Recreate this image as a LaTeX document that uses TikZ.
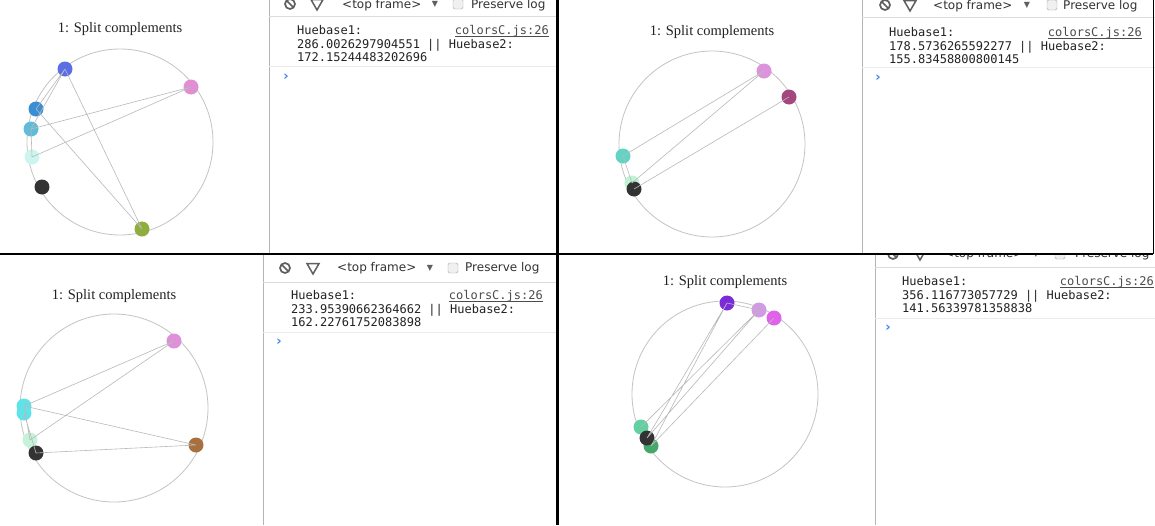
\documentclass[tikz,border=0pt]{standalone}
\usepackage{fontspec}
\setmainfont{Liberation Serif}
\newfontfamily\consolefont{DejaVu Sans Mono}
\newfontfamily\uifont{DejaVu Sans}
\usetikzlibrary{positioning,shapes.geometric}
\definecolor{ringgray}{HTML}{C4C4C4}
\definecolor{linkgray}{HTML}{B9B9B9}
\definecolor{panelgray}{HTML}{B4B4B4}
\definecolor{rulegray}{HTML}{DCDCDC}
\definecolor{sepgray}{HTML}{EBEBEB}
\definecolor{icongray}{HTML}{5F5F5F}
\definecolor{boxgray}{HTML}{A8A8A8}
\definecolor{promptblue}{HTML}{3F86E8}
\definecolor{inkdark}{HTML}{222222}
\definecolor{dotdark}{HTML}{333333}
\definecolor{tlblue}{HTML}{5B6EE6}
\definecolor{tlpink}{HTML}{E08FD2}
\definecolor{tlsteel}{HTML}{3A8FD4}
\definecolor{tlsky}{HTML}{62BCD8}
\definecolor{tlmint}{HTML}{CDF5F0}
\definecolor{tlolive}{HTML}{8FAE3E}
\definecolor{trpink}{HTML}{DD92DE}
\definecolor{trplum}{HTML}{A5477F}
\definecolor{trteal}{HTML}{63D3C3}
\definecolor{trmint}{HTML}{C0F2D4}
\definecolor{blpink}{HTML}{DE90D8}
\definecolor{blcyan}{HTML}{5FE3E8}
\definecolor{blmint}{HTML}{C6F2DA}
\definecolor{blbrown}{HTML}{A8703E}
\definecolor{brviolet}{HTML}{7B2BD8}
\definecolor{brlilac}{HTML}{D29AE2}
\definecolor{brmagenta}{HTML}{E062EA}
\definecolor{brsea}{HTML}{62D0A2}
\definecolor{brgreen}{HTML}{45A86A}

\begin{document}
\begin{tikzpicture}[
  x=1pt,y=-1pt,
  title/.style={font=\fontsize{14.5}{16}\selectfont,text=inkdark,inner sep=0},
  ring/.style={circle,draw=ringgray,line width=.8pt,minimum size=#1,inner sep=0},
  dot/.style={circle,fill=#1,minimum size=15pt,inner sep=0},
  link/.style={draw=linkgray,line width=.6pt},
  console/.style={font=\consolefont\fontsize{12}{13.5}\selectfont,text=inkdark,inner sep=0,anchor=base west},
  src/.style={console,anchor=base east,text=black!70},
  ui/.style={font=\uifont\fontsize{12}{14}\selectfont,text=black!80,inner sep=0,anchor=west},
  stopicon/.style={circle,draw=icongray,line width=1.7pt,minimum size=10pt,inner sep=0,
    path picture={\draw[icongray,line width=1.7pt] (path picture bounding box.north west) -- (path picture bounding box.south east);}},
  funnel/.style={regular polygon,regular polygon sides=3,shape border rotate=180,draw=icongray,line width=1.5pt,minimum size=14pt,inner sep=0},
  menu/.style={font=\uifont\fontsize{8}{9}\selectfont,text=icongray,inner sep=0},
  checkbox/.style={rectangle,rounded corners=1.5pt,draw=boxgray,fill=black!6,minimum size=10pt,inner sep=0},
  prompt/.style={font=\uifont\bfseries\fontsize{13}{14}\selectfont,text=promptblue,inner sep=0},
  border/.style={draw=panelgray,line width=1pt},
  frame/.style={draw=black,line width=1.5pt}
]
\useasboundingbox (0,0) rectangle (1155,525);
\clip (0,0) rectangle (1155,525);
\fill[white] (0,0) rectangle (1155,525);

% top left
\node[title] (tltitle) at (120,29) {1: Split complements};
\node[ring=186pt] (tlring) at (120,142) {};
\node[dot=tlblue] (tla) at (65,69) {};
\node[dot=tlpink] (tlb) at (191,87) {};
\node[dot=tlsteel] (tlc) at (36,109) {};
\node[dot=tlsky] (tld) at (31,129) {};
\node[dot=tlmint] (tle) at (32,157) {};
\node[dot=dotdark] (tlf) at (42,187) {};
\node[dot=tlolive] (tlg) at (142,229) {};
\draw[link] (tla.center) -- (tlc.center) (tla.center) -- (tld.center) (tld.center) -- (tle.center)
  (tlb.center) -- (tld.center) (tlb.center) -- (tle.center)
  (tla.center) -- (tlg.center) (tlc.center) -- (tlg.center);

\draw[border] (269,0) -- (269,254);
\draw[rulegray] (269,16.5) -- (557,16.5);
\node[stopicon] (tlstop) at (290,4) {};
\node[funnel] (tlfunnel) at (317,3) {};
\node[ui] (tlframe) at (342,5) {<top frame>};
\node[menu] (tlmenu) at (435,4) {▼};
\node[checkbox] (tlcheck) at (458,4) {};
\node[ui] (tlpreserve) at (471,5) {Preserve log};
\node[console] (tlmsga) at (297,34.5) {Huebase1:};
\node[src] (tlsrc) at (549,34.5) {\underline{\smash{colorsC.js:26}}};
\node[console] (tlmsgb) at (297,48) {286.0026297904551 || Huebase2:};
\node[console] (tlmsgc) at (297,61.5) {172.15244483202696};
\draw[sepgray] (269,66.5) -- (557,66.5);
\node[prompt] (tlprompt) at (286,77) {›};

% top right
\node[title] (trtitle) at (712,32) {1: Split complements};
\node[ring=186pt] (trring) at (712,144) {};
\node[dot=trpink] (tra) at (764,71) {};
\node[dot=trplum] (trb) at (789,97) {};
\node[dot=trteal] (trc) at (623,156) {};
\node[dot=trmint] (trd) at (632,183) {};
\node[dot=dotdark] (tre) at (634,189) {};
\draw[link] (tra.center) -- (trc.center) (tra.center) -- (trd.center)
  (trb.center) -- (tre.center) (trc.center) -- (trd.center);

\draw[border] (862,0) -- (862,254);
\draw[rulegray] (862,17.5) -- (1155,17.5);
\node[stopicon] (trstop) at (885,5) {};
\node[funnel] (trfunnel) at (910,4) {};
\node[ui] (trframe) at (933,6) {<top frame>};
\node[menu] (trmenu) at (1027,5) {▼};
\node[checkbox] (trcheck) at (1052,5) {};
\node[ui] (trpreserve) at (1063,6) {Preserve log};
\node[console] (trmsga) at (889,36.5) {Huebase1:};
\node[src] (trsrc) at (1142,36.5) {\underline{\smash{colorsC.js:26}}};
\node[console] (trmsgb) at (889,50) {178.5736265592277 || Huebase2:};
\node[console] (trmsgc) at (889,63.5) {155.83458800800145};
\draw[sepgray] (862,67.5) -- (1155,67.5);
\node[prompt] (trprompt) at (878,78) {›};

% bottom left
\node[title] (bltitle) at (114,296) {1: Split complements};
\node[ring=188pt] (blring) at (114,408) {};
\node[dot=blpink] (bla) at (174,341) {};
\node[dot=blcyan] (blb) at (24,406) {};
\node[dot=blcyan] (blc) at (24,413) {};
\node[dot=blmint] (bld) at (30,440) {};
\node[dot=dotdark] (ble) at (36,453) {};
\node[dot=blbrown] (blf) at (196,445) {};
\draw[link] (bla.center) -- (blb.center) (bla.center) -- (bld.center)
  (blb.center) -- (blf.center) (ble.center) -- (blf.center)
  (blb.center) -- (bld.center) (blc.center) -- (ble.center);

\draw[border] (263,254) -- (263,525);
\draw[rulegray] (263,282.5) -- (557,282.5);
\node[stopicon] (blstop) at (285,268) {};
\node[funnel] (blfunnel) at (313,267) {};
\node[ui] (blframe) at (337,268) {<top frame>};
\node[menu] (blmenu) at (430,268) {▼};
\node[checkbox] (blcheck) at (453,268) {};
\node[ui] (blpreserve) at (465,268) {Preserve log};
\node[console] (blmsga) at (291,299.5) {Huebase1:};
\node[src] (blsrc) at (543,299.5) {\underline{\smash{colorsC.js:26}}};
\node[console] (blmsgb) at (291,313) {233.95390662364662 || Huebase2:};
\node[console] (blmsgc) at (291,326.5) {162.22761752083898};
\draw[sepgray] (263,332.5) -- (557,332.5);
\node[prompt] (blprompt) at (279,342) {›};

% bottom right
\node[title] (brtitle) at (725,282) {1: Split complements};
\node[ring=186pt] (brring) at (725,394) {};
\node[dot=brviolet] (bra) at (727,303) {};
\node[dot=brlilac] (brb) at (759,310) {};
\node[dot=brmagenta] (brc) at (774,318) {};
\node[dot=brsea] (brd) at (641,427) {};
\node[dot=brgreen] (bre) at (651,446) {};
\node[dot=dotdark] (brf) at (647,438) {};
\draw[link] (bra.center) -- (brb.center) (bra.center) -- (brf.center) (bra.center) -- (bre.center)
  (brb.center) -- (brd.center) (brb.center) -- (brf.center) (brc.center) -- (bre.center);

\draw[border] (875,254) -- (875,525);
\draw[rulegray] (875,267.5) -- (1155,267.5);
\begin{scope}
\clip (875,254) rectangle (1155,267);
\node[stopicon] (brstop) at (893,254) {};
\node[funnel] (brfunnel) at (920,253) {};
\node[ui] (brframe) at (944,254) {<top frame>};
\node[menu] (brmenu) at (1036,254) {▼};
\node[checkbox] (brcheck) at (1060,254) {};
\node[ui] (brpreserve) at (1075,254) {Preserve log};
\end{scope}
\node[console] (brmsga) at (902,285.5) {Huebase1:};
\node[src] (brsrc) at (1154,285.5) {\underline{\smash{colorsC.js:26}}};
\node[console] (brmsgb) at (902,299) {356.116773057729 || Huebase2:};
\node[console] (brmsgc) at (902,312.5) {141.56339781358838};
\draw[sepgray] (875,318) -- (1155,318);
\node[prompt] (brprompt) at (888,328) {›};

% screenshot edges
\draw[frame] (0,254) -- (1153,254);
\draw[frame,line width=1pt] (1153,0) -- (1153,254);
\draw[frame,line width=2.6pt] (557.5,0) -- (557.5,525);
\end{tikzpicture}
\end{document}
